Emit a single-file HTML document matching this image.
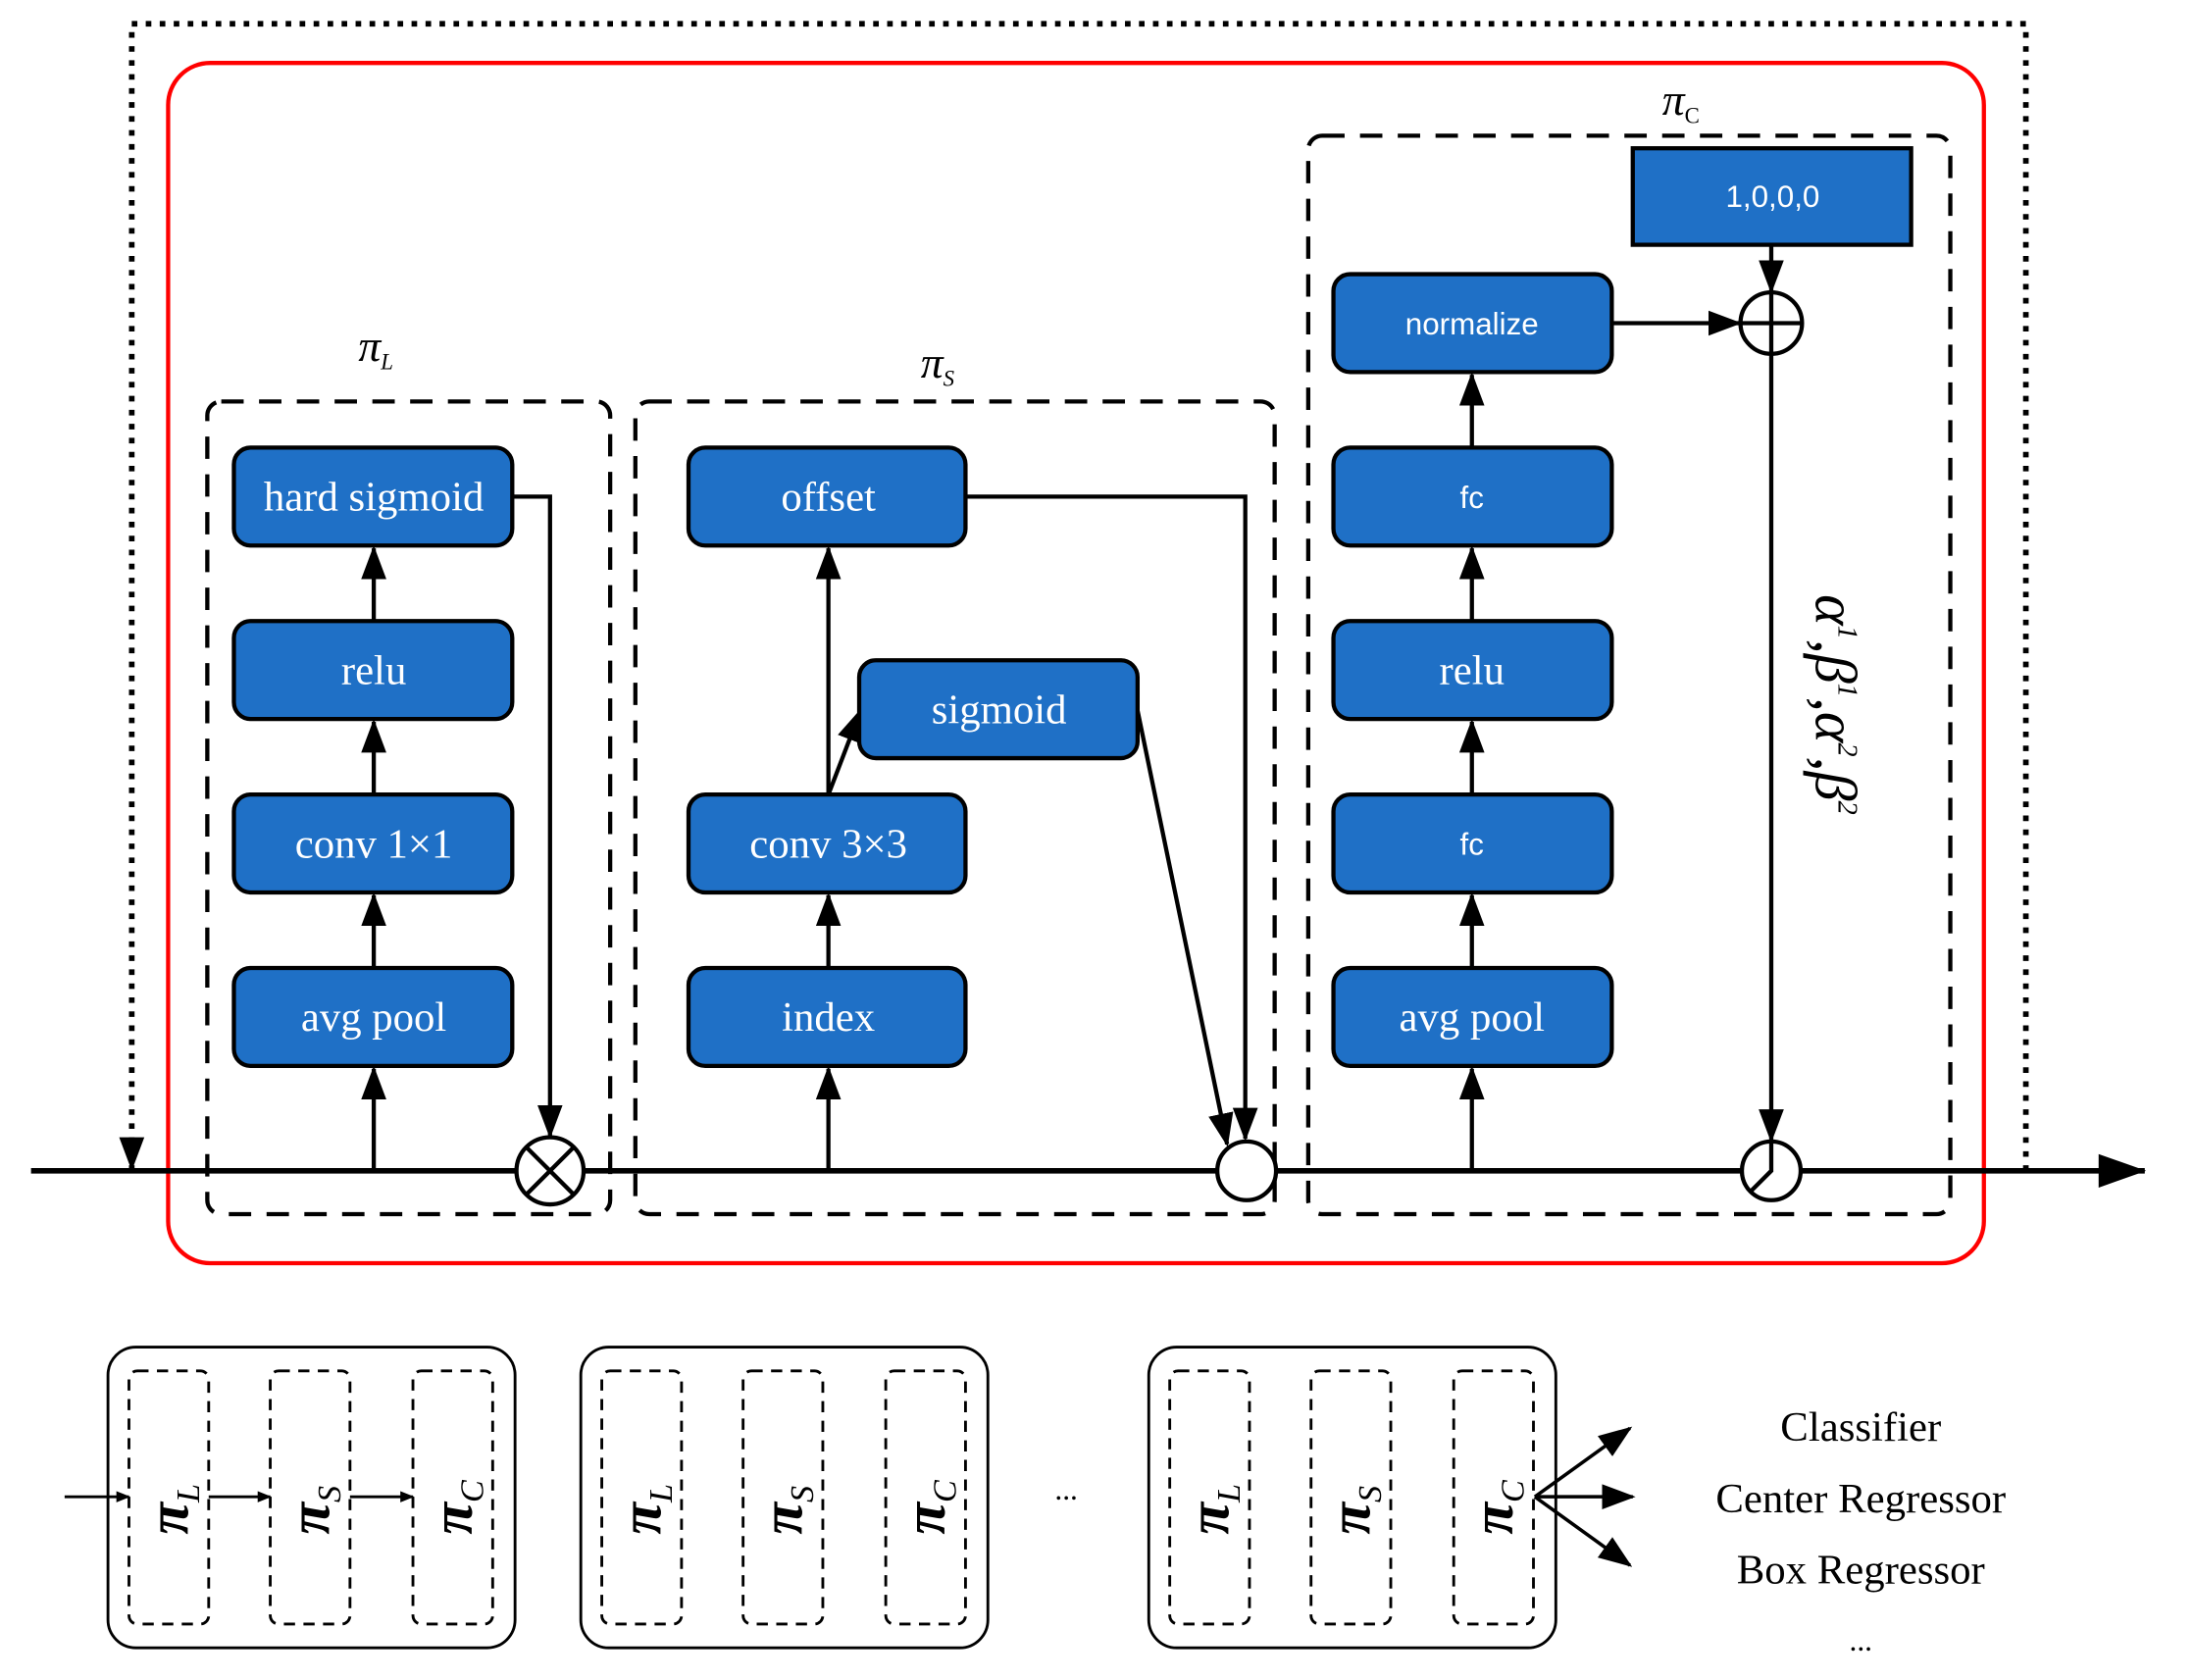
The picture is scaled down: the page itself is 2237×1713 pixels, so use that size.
<!DOCTYPE html>
<html><head><meta charset="utf-8"><style>html,body{margin:0;padding:0;background:#fff}svg{display:block}</style></head>
<body>
<svg width="2237" height="1713" viewBox="0 0 1568 1201" xmlns="http://www.w3.org/2000/svg">
<defs>
<marker id="a" markerWidth="10" markerHeight="8" refX="9" refY="4" orient="auto" markerUnits="userSpaceOnUse" viewBox="0 0 10 8"><path d="M0,0L10,4L0,8Z"/></marker>
<marker id="A" markerWidth="24" markerHeight="24" refX="22" refY="12" orient="auto" markerUnits="userSpaceOnUse" viewBox="0 0 24 24"><path d="M0,3L24,12L0,21Z"/></marker>
<marker id="B" markerWidth="34" markerHeight="24" refX="33" refY="12" orient="auto" markerUnits="userSpaceOnUse" viewBox="0 0 34 24"><path d="M0,0L34,12L0,24Z"/></marker>
</defs>
<rect x="120" y="45" width="1298" height="858" rx="30" fill="none" stroke="#f00" stroke-width="3"/>
<path d="M1448,837V17H94V835" fill="none" stroke="#000" stroke-width="4" stroke-dasharray="4,6" marker-end="url(#A)"/>
<g fill="none" stroke="#000" stroke-width="3" stroke-dasharray="16,11">
<rect x="148" y="287" width="288" height="581" rx="10"/>
<rect x="454" y="287" width="457" height="581" rx="10"/>
<rect x="935" y="97" width="459" height="771" rx="10"/>
</g>
<line x1="22" y1="837" x2="1533" y2="837" stroke="#000" stroke-width="4" marker-end="url(#B)"/>
<g stroke="#000" stroke-width="3" fill="none">
<line x1="267" y1="837" x2="267" y2="764" marker-end="url(#A)"/>
<line x1="267" y1="692" x2="267" y2="640" marker-end="url(#A)"/>
<line x1="267" y1="568" x2="267" y2="516" marker-end="url(#A)"/>
<line x1="267" y1="444" x2="267" y2="392" marker-end="url(#A)"/>
<path d="M366,355H393V812" marker-end="url(#A)"/>
<line x1="592" y1="837" x2="592" y2="764" marker-end="url(#A)"/>
<line x1="592" y1="692" x2="592" y2="640" marker-end="url(#A)"/>
<line x1="592" y1="568" x2="592" y2="392" marker-end="url(#A)"/>
<line x1="592" y1="568" x2="615" y2="508" marker-end="url(#A)"/>
<path d="M690,355H890V814" marker-end="url(#A)"/>
<line x1="813" y1="508" x2="877" y2="818" marker-end="url(#A)"/>
<line x1="1052" y1="837" x2="1052" y2="764" marker-end="url(#A)"/>
<line x1="1052" y1="692" x2="1052" y2="640" marker-end="url(#A)"/>
<line x1="1052" y1="568" x2="1052" y2="516" marker-end="url(#A)"/>
<line x1="1052" y1="444" x2="1052" y2="392" marker-end="url(#A)"/>
<line x1="1052" y1="320" x2="1052" y2="268" marker-end="url(#A)"/>
<line x1="1152" y1="231" x2="1243" y2="231" marker-end="url(#A)"/>
<line x1="1266" y1="175" x2="1266" y2="208" marker-end="url(#A)"/>
<line x1="1266" y1="253" x2="1266" y2="815" marker-end="url(#A)"/>
</g>
<g stroke="#000" stroke-width="3" fill="#fff">
<circle cx="393" cy="837" r="24"/><path d="M376,820L410,854M410,820L376,854" fill="none"/>
<circle cx="891" cy="837" r="21"/>
<circle cx="1266" cy="837" r="21"/><path d="M1266,816V837L1252,851" fill="none"/>
<circle cx="1266" cy="231" r="22"/><path d="M1244,231H1288M1266,209V253" fill="none"/>
</g>
<g fill="#1f70c6" stroke="#000" stroke-width="3">
<rect x="167" y="320" width="199" height="70" rx="12"/>
<rect x="167" y="444" width="199" height="70" rx="12"/>
<rect x="167" y="568" width="199" height="70" rx="12"/>
<rect x="167" y="692" width="199" height="70" rx="12"/>
<rect x="492" y="320" width="198" height="70" rx="12"/>
<rect x="614" y="472" width="199" height="70" rx="12"/>
<rect x="492" y="568" width="198" height="70" rx="12"/>
<rect x="492" y="692" width="198" height="70" rx="12"/>
<rect x="953" y="196" width="199" height="70" rx="12"/>
<rect x="953" y="320" width="199" height="70" rx="12"/>
<rect x="953" y="444" width="199" height="70" rx="12"/>
<rect x="953" y="568" width="199" height="70" rx="12"/>
<rect x="953" y="692" width="199" height="70" rx="12"/>
<rect x="1167" y="106" width="199" height="69"/>
</g>
<g fill="#fff" font-family="Liberation Serif, serif" font-size="30" text-anchor="middle">
<text x="267" y="365">hard sigmoid</text>
<text x="267" y="489">relu</text>
<text x="267" y="613">conv 1×1</text>
<text x="267" y="737">avg pool</text>
<text x="592" y="365">offset</text>
<text x="714" y="517">sigmoid</text>
<text x="592" y="613">conv 3×3</text>
<text x="592" y="737">index</text>
<text x="1052" y="489">relu</text>
<text x="1052" y="737">avg pool</text>
</g>
<g fill="#fff" font-family="Liberation Sans, sans-serif" font-size="22" text-anchor="middle">
<text x="1052" y="239">normalize</text>
<text x="1052" y="363">fc</text>
<text x="1052" y="611">fc</text>
<text x="1267" y="148">1,0,0,0</text>
</g>
<g font-family="Liberation Serif, serif" font-style="italic">
<text x="256" y="258" font-size="32">π<tspan font-size="16" dy="6">L</tspan></text>
<text x="658" y="270" font-size="32">π<tspan font-size="16" dy="6">S</tspan></text>
<text x="1188" y="82" font-size="32">π<tspan font-size="16" dy="6" font-style="normal">C</tspan></text>
<text transform="translate(1298,425) rotate(90)" font-size="42">α<tspan font-size="20" dy="-16">1</tspan><tspan dy="16">,β</tspan><tspan font-size="20" dy="-16">1</tspan><tspan dy="16">,α</tspan><tspan font-size="20" dy="-16">2</tspan><tspan dy="16">,β</tspan><tspan font-size="20" dy="-16">2</tspan></text>
</g>
<g fill="none" stroke="#000" stroke-width="2">
<rect x="77" y="963" width="291" height="215" rx="20"/>
<rect x="415" y="963" width="291" height="215" rx="20"/>
<rect x="821" y="963" width="291" height="215" rx="20"/>
</g>
<g fill="none" stroke="#000" stroke-width="2" stroke-dasharray="8,6">
<rect x="92" y="980" width="57" height="181" rx="6"/><rect x="193" y="980" width="57" height="181" rx="6"/><rect x="295" y="980" width="57" height="181" rx="6"/>
<rect x="430" y="980" width="57" height="181" rx="6"/><rect x="531" y="980" width="57" height="181" rx="6"/><rect x="633" y="980" width="57" height="181" rx="6"/>
<rect x="836" y="980" width="57" height="181" rx="6"/><rect x="937" y="980" width="57" height="181" rx="6"/><rect x="1039" y="980" width="57" height="181" rx="6"/>
</g>
<g stroke="#000" stroke-width="2">
<line x1="46" y1="1070" x2="92" y2="1070" marker-end="url(#a)"/>
<line x1="149" y1="1070" x2="193" y2="1070" marker-end="url(#a)"/>
<line x1="250" y1="1070" x2="295" y2="1070" marker-end="url(#a)"/>
</g>
<g stroke="#000" stroke-width="2.5">
<line x1="1097" y1="1070" x2="1165" y2="1021" marker-end="url(#A)"/>
<line x1="1097" y1="1070" x2="1167" y2="1070" marker-end="url(#A)"/>
<line x1="1097" y1="1070" x2="1165" y2="1119" marker-end="url(#A)"/>
</g>
<g font-family="Liberation Serif, serif" font-style="italic" font-weight="bold" font-size="42">
<text transform="translate(134,1097) rotate(-90)">π<tspan font-size="24" dy="8" font-weight="normal">L</tspan></text>
<text transform="translate(235,1097) rotate(-90)">π<tspan font-size="24" dy="8" font-weight="normal">S</tspan></text>
<text transform="translate(337,1097) rotate(-90)">π<tspan font-size="24" dy="8" font-weight="normal">C</tspan></text>
<text transform="translate(472,1097) rotate(-90)">π<tspan font-size="24" dy="8" font-weight="normal">L</tspan></text>
<text transform="translate(573,1097) rotate(-90)">π<tspan font-size="24" dy="8" font-weight="normal">S</tspan></text>
<text transform="translate(675,1097) rotate(-90)">π<tspan font-size="24" dy="8" font-weight="normal">C</tspan></text>
<text transform="translate(878,1097) rotate(-90)">π<tspan font-size="24" dy="8" font-weight="normal">L</tspan></text>
<text transform="translate(979,1097) rotate(-90)">π<tspan font-size="24" dy="8" font-weight="normal">S</tspan></text>
<text transform="translate(1081,1097) rotate(-90)">π<tspan font-size="24" dy="8" font-weight="normal">C</tspan></text>
</g>
<g font-family="Liberation Serif, serif" font-size="30" text-anchor="middle">
<text x="1330" y="1030">Classifier</text>
<text x="1330" y="1081">Center Regressor</text>
<text x="1330" y="1132">Box Regressor</text>
<text x="1330" y="1180" font-size="22">...</text>
<text x="762" y="1072" font-size="22">...</text>
</g>
</svg>
</body></html>
